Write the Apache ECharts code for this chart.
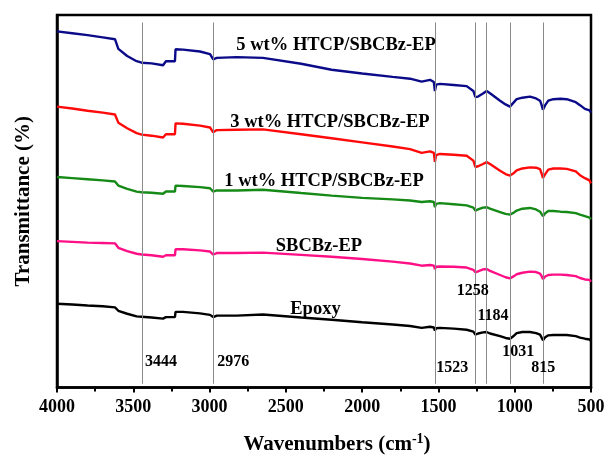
<!DOCTYPE html>
<html>
<head>
<meta charset="utf-8">
<script src="https://cdn.jsdelivr.net/npm/echarts@6/dist/echarts.min.js"></script>
<style>
  html, body { margin: 0; padding: 0; background: #fff; }
  #chart { width: 610px; height: 460px; }
</style>
</head>
<body>
<div id="chart"></div>
<script>
// FTIR spectra: wavenumber grid (cm^-1) shared by all five traces
const wavenumbers = [4000, 3900, 3800, 3700, 3620, 3598, 3540, 3478, 3445, 3380, 3305, 3286, 3227, 3223, 3174, 3063, 2997, 2976, 2953, 2822, 2650, 2400, 2200, 2000, 1800, 1686, 1610, 1555, 1530, 1523, 1515, 1490, 1400, 1315, 1271, 1258, 1240, 1208, 1184, 1162, 1096, 1060, 1031, 1005, 987, 950, 900, 860, 834, 825, 815, 800, 780, 747, 700, 659, 600, 572, 540, 510, 500];

// Offset transmittance of each sample (stacked for display)
const ht5 = [95.6, 95.1, 94.6, 94.0, 93.5, 90.9, 89.0, 87.6, 87.2, 87.0, 86.5, 87.6, 87.6, 90.8, 90.7, 90.2, 89.5, 88.1, 88.5, 88.7, 88.5, 86.9, 85.3, 84.3, 83.4, 82.9, 82.1, 82.6, 82.0, 79.6, 81.3, 81.5, 81.2, 80.9, 79.6, 78.0, 78.1, 78.9, 79.6, 79.0, 77.0, 76.0, 75.4, 76.6, 77.4, 77.8, 78.1, 77.6, 77.0, 76.0, 74.6, 75.8, 77.0, 77.4, 77.5, 77.4, 76.6, 75.8, 74.8, 74.4, 73.8];
const ht3 = [75.4, 74.9, 74.3, 73.8, 73.3, 71.1, 69.6, 68.3, 67.9, 67.6, 67.1, 68.0, 68.0, 70.9, 70.8, 70.3, 69.8, 68.5, 69.1, 69.2, 69.3, 68.0, 66.9, 65.8, 64.7, 64.0, 63.0, 63.4, 63.0, 60.6, 62.4, 62.7, 62.5, 62.2, 60.9, 59.2, 59.4, 60.0, 60.5, 60.0, 58.2, 57.3, 56.9, 57.6, 58.3, 58.8, 59.1, 59.0, 58.6, 57.6, 56.3, 57.3, 58.5, 58.8, 58.8, 58.7, 58.0, 57.0, 56.2, 55.6, 54.8];
const ht1 = [56.5, 56.2, 55.9, 55.6, 55.3, 54.2, 53.3, 52.6, 52.4, 52.3, 52.0, 52.6, 52.6, 54.2, 54.1, 53.8, 53.5, 52.6, 52.9, 52.9, 53.1, 52.2, 51.5, 50.9, 50.5, 50.2, 49.8, 50.0, 49.8, 48.4, 49.3, 49.5, 49.2, 48.9, 48.3, 47.5, 47.8, 48.3, 48.4, 48.0, 47.1, 46.6, 46.4, 47.0, 47.5, 48.0, 48.2, 47.8, 47.2, 46.7, 46.0, 46.8, 47.4, 47.4, 47.2, 47.1, 46.8, 46.4, 46.0, 45.6, 45.2];
const sbcbz = [39.3, 39.1, 38.9, 38.8, 38.7, 37.5, 36.6, 35.9, 35.7, 35.5, 35.1, 35.5, 35.5, 37.1, 37.1, 36.8, 36.5, 35.7, 36.1, 36.1, 36.2, 35.6, 35.1, 34.5, 33.8, 33.3, 32.7, 32.9, 32.7, 31.8, 32.4, 32.5, 32.4, 32.2, 31.6, 30.9, 31.2, 31.7, 31.8, 31.3, 30.2, 29.6, 29.3, 29.9, 30.4, 30.8, 31.1, 31.0, 30.6, 30.0, 29.1, 29.8, 30.2, 30.3, 30.3, 30.2, 29.9, 29.4, 29.0, 28.9, 28.4];
const epoxy = [22.5, 22.3, 22.0, 21.8, 21.5, 20.6, 19.8, 19.1, 19.0, 18.8, 18.5, 18.9, 18.9, 20.3, 20.3, 19.9, 19.5, 18.9, 19.3, 19.3, 19.6, 18.8, 18.2, 17.5, 16.9, 16.5, 16.0, 16.3, 16.1, 15.3, 15.9, 16.0, 15.8, 15.5, 15.0, 14.2, 14.5, 14.8, 14.9, 14.5, 13.8, 13.3, 13.1, 13.9, 14.6, 14.9, 14.9, 14.6, 14.2, 13.5, 12.7, 13.5, 14.0, 14.1, 14.1, 14.1, 13.8, 13.4, 13.1, 12.9, 12.5];

const seriesNames = ['5 wt% HTCP/SBCBz-EP', '3 wt% HTCP/SBCBz-EP', '1 wt% HTCP/SBCBz-EP', 'SBCBz-EP', 'Epoxy'];
const seriesValues = [ht5, ht3, ht1, sbcbz, epoxy];

// Characteristic absorption bands marked with reference lines
const peakBands = [3444, 2976, 1523, 1258, 1184, 1031, 815];

// Axis ticks
const xTicks = [4000, 3500, 3000, 2500, 2000, 1500, 1000, 500];

// Layout: where each text annotation sits, in axis units [wavenumber, level]
const nameLabelAt = [[2171, 92.0], [2211, 71.3], [2250, 55.5], [2283, 37.9], [2306, 20.9]];
const peakLabelAt = [[3318, 6.9], [2844, 6.9], [1409, 5.3], [1275, 26.0], [1142, 19.1], [977, 9.6], [813, 5.3]];

const colors = ['#0b0b8a', '#ff0a0a', '#168a16', '#ff0f86', '#000000'];
const FONT = "'Liberation Serif', 'Times New Roman', serif";

const chart = echarts.init(document.getElementById('chart'), null, { renderer: 'canvas' });

const lineSeries = seriesValues.map((vals, i) => ({
  name: seriesNames[i],
  type: 'line',
  data: wavenumbers.map((w, k) => [w, vals[k]]),
  showSymbol: false,
  symbol: 'none',
  lineStyle: { color: colors[i], width: 2.4 },
  z: 3,
  animation: false
}));

// Thin grey reference lines through the absorption bands
lineSeries.push({
  name: 'bands',
  type: 'line',
  data: [],
  markLine: {
    silent: true,
    symbol: 'none',
    label: { show: false },
    lineStyle: { color: '#8a8a8a', width: 1, type: 'solid' },
    data: peakBands.map(b => [{ coord: [b, 1] }, { coord: [b, 98] }])
  },
  z: 2,
  animation: false
});

// Text annotations anchored to axis coordinates
function textSeries(name, points, texts, size) {
  return {
    name: name,
    type: 'scatter',
    data: points.map((p, i) => ({ value: p, label: { formatter: texts[i] } })),
    symbolSize: 1,
    itemStyle: { color: 'rgba(255,255,255,0)' },
    label: {
      show: true,
      position: 'inside',
      color: '#000',
      opacity: 1,
      textBorderWidth: 0,
      textBorderColor: 'transparent',
      fontFamily: FONT,
      fontWeight: 'bold',
      fontSize: size
    },
    labelLayout: { hideOverlap: false },
    silent: true,
    z: 5,
    animation: false
  };
}

lineSeries.push(textSeries('names', nameLabelAt, seriesNames, 18.5));
lineSeries.push(textSeries('peaks', peakLabelAt, peakBands.map(String), 16));

chart.setOption({
  backgroundColor: '#fff',
  animation: false,
  grid: {
    left: 57, right: 19, top: 15, bottom: 70,
    show: true, borderColor: '#000', borderWidth: 2.5, backgroundColor: 'transparent'
  },
  xAxis: {
    type: 'value',
    min: 500, max: 4000, interval: 500,
    inverse: true,
    name: 'Wavenumbers (cm{sup|-1})',
    nameLocation: 'middle',
    nameGap: 45,
    nameTextStyle: {
      fontFamily: FONT, fontWeight: 'bold', fontSize: 21, color: '#000',
      padding: [0, 0, 0, 26],
      rich: { sup: { fontFamily: FONT, fontWeight: 'bold', fontSize: 14, color: '#000', verticalAlign: 'top', padding: [0, 0, 10, 0] } }
    },
    axisLine: { show: true, lineStyle: { color: '#000', width: 2.5 } },
    axisTick: { show: true, inside: false, length: 5, lineStyle: { color: '#000', width: 2 } },
    minorTick: { show: true, splitNumber: 2, length: 4, lineStyle: { color: '#000', width: 2 } },
    splitLine: { show: false },
    minorSplitLine: { show: false },
    axisLabel: {
      margin: 11,
      fontFamily: FONT, fontWeight: 'bold', fontSize: 18, color: '#000',
      formatter: v => (xTicks.indexOf(v) >= 0 ? String(v) : '')
    }
  },
  yAxis: {
    type: 'value',
    min: 0, max: 100,
    name: 'Transmittance (%)',
    nameLocation: 'middle',
    nameGap: 23,
    nameTextStyle: { fontFamily: FONT, fontWeight: 'bold', fontSize: 21, color: '#000' },
    axisLine: { show: true, lineStyle: { color: '#000', width: 2.5 } },
    axisTick: { show: false },
    axisLabel: { show: false },
    splitLine: { show: false }
  },
  series: lineSeries
});
</script>
</body>
</html>
